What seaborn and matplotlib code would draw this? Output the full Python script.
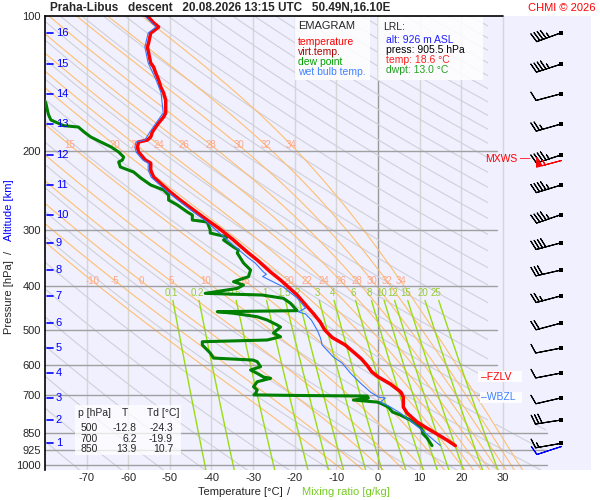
import numpy as np
import matplotlib
matplotlib.use("Agg")
import matplotlib.pyplot as plt
from matplotlib.patches import Rectangle, Polygon
import seaborn as sns

# ---- sounding values ----
temp_p = [100, 103.6, 105.8, 108.0, 109.1, 114.8, 117.2, 120.9, 127.3, 129.9,
          133.9, 138.8, 143.9, 148.4, 153.9, 164.4, 167.8, 173.1, 176.7, 181.3,
          186.0, 188.9, 190.8, 195.8, 200.9, 206.1, 209.3, 212.6, 220.3, 228.4,
          237.9, 246.6, 257.0, 270.4, 286.2, 296.6, 315.4, 335.5, 349.5, 371.7,
          387.3, 418.3, 447.1, 460, 480, 500, 520, 540, 560, 580,
          600, 620, 636, 660, 688, 706, 743, 766, 802, 828,
          850, 880, 905.5]
temp_t = [-55.4, -53.9, -52.7, -53.9, -54.6, -55.1, -55.4, -55.1, -54.6, -53.9,
          -53.4, -52.7, -52.2, -51.5, -51.0, -51.0, -51.5, -52.7, -53.4, -54.2,
          -54.6, -55.4, -57.5, -57.8, -57.5, -56.5, -55.9, -54.6, -54.6, -53.9,
          -51.8, -49.9, -47.5, -44.3, -40.7, -38.3, -34.7, -31.4, -29.0, -25.8,
          -23.4, -19.4, -16.7, -15.5, -13.9, -12.8, -11.0, -7.9, -5.9, -4.0,
          -2.6, -1.5, 0.0, 3.0, 5.5, 6.1, 6.1, 7.0, 9.4, 11.8,
          13.9, 16.6, 18.6]

wetb_p = [100, 105.8, 109.1, 117.2, 127.3, 138.8, 148.4, 164.4, 173.1, 181.3,
          188.9, 190.8, 195.8, 200.9, 209.3, 212.6, 220.3, 228.4, 237.9, 246.6,
          257.0, 270.4, 286.2, 299.6, 320, 344.2, 354.9, 371.7, 376, 380.5,
          401.4, 424.8, 435.7, 447.1, 456.2, 460.9, 475.5, 500.5, 521.3, 540.4,
          574.9, 592.8, 624.2, 656.9, 687.9, 705.8, 709.4, 724.2, 742.9, 766.2,
          806.5, 848.8, 905.5]
wetb_t = [-56.0, -53.3, -55.2, -56.0, -55.2, -53.3, -52.1, -51.6, -53.3, -54.8,
          -56.0, -58.1, -58.4, -58.1, -56.5, -55.2, -55.2, -54.5, -52.4, -50.5,
          -48.1, -45.0, -41.4, -38.9, -35.4, -31.4, -29.5, -27.5, -26.8, -27.7,
          -22.7, -19.4, -18.4, -17.4, -19.1, -17.4, -16.0, -14.6, -13.8, -13.4,
          -10.7, -8.6, -6.6, -4.2, -1.8, 0.1, 1.8, 0.6, 3.0, 5.4,
          8.5, 11.4, 15.0]

dwpt_p = [152, 156.2, 165.5, 170.4, 175.5, 176.7, 181.3, 186.0, 190.8, 195.8,
          200.9, 206.1, 209.3, 211.4, 216.9, 222.6, 229.5, 237.9, 244.1, 250.4,
          257.0, 263.6, 273.3, 277.5, 284.7, 287.6, 299.6, 304.4, 310.6, 315.4,
          327.0, 332.0, 337.2, 354.9, 367.9, 380.7, 390.7, 397.3, 404.2, 414.7,
          418.3, 425.4, 436.4, 453.2, 455.6, 459.3, 467.5, 475.5, 487.8, 492.8,
          508.2, 518.0, 526.8, 531.4, 540.4, 554.5, 563.2, 577.9, 583.9, 588.8,
          604.1, 614.4, 625.2, 637.0, 641.1, 652.5, 669.4, 680.8, 692.3, 698.0,
          700.0, 702.2, 709.4, 716.7, 724.2, 727.9, 742.9, 762.1, 774.1, 794.3,
          823.3, 844.5, 850.0, 870.9, 905.5]
dwpt_t = [-80.5, -79.8, -79.2, -78.6, -75.5, -72.0, -70.6, -69.0, -66.6, -64.1,
          -62.3, -61.1, -61.4, -62.3, -61.9, -58.7, -57.0, -54.6, -51.5, -50.3,
          -50.3, -48.2, -45.8, -44.6, -44.6, -41.0, -40.3, -40.3, -36.2, -37.1,
          -34.7, -33.5, -33.8, -32.3, -30.6, -31.1, -34.7, -32.3, -33.8, -41.5,
          -27.8, -22.7, -21.0, -19.4, -38.6, -34.7, -29.0, -26.6, -24.2, -23.4,
          -25.1, -23.4, -26.6, -42.2, -42.2, -41.0, -40.3, -39.5, -30.0, -29.0,
          -28.2, -30.6, -29.0, -27.5, -25.8, -29.0, -29.9, -29.0, -29.4, -29.8,
          -19.9, -2.6, -2.3, -5.9, -0.2, 0.5, 2.5, 3.5, 5.4, 7.8,
          10.2, 10.9, 10.7, 11.8, 13.0]

# ---- diagram grid ----
press_levels = [100, 200, 300, 400, 500, 600, 700, 850, 925, 1000]
isotherms = [-70, -60, -50, -40, -30, -20, -10, 0, 10, 20, 30]
theta_dry = list(range(190, 650, 10))
theta_w = [-10, -5, 0, 5, 10, 15, 20, 22, 24, 26, 28, 30, 32, 34]
theta_w_top = [15, 20, 22, 24, 26, 28, 30, 32, 34]
mix_ratio = [0.1, 0.2, 0.5, 1, 1.5, 2, 3, 4, 6, 8, 10, 12, 15, 20, 25]
mix_label = ["0.1", "0.2", "0.5", "1", "1.5", "2", "3", "4", "6", "8",
             "10", "12", "15", "20", "25"]

# altitude scale [km] and the pressure at each km
alt_km = [1, 2, 3, 4, 5, 6, 7, 8, 9, 10, 11, 12, 13, 14, 15, 16]
alt_p = [895, 794, 709, 624, 549, 483, 420, 368, 320, 277, 238, 204, 174, 149, 128, 109]

# winds at each km
wind_dir = [260, 261, 257, 259, 259, 255, 255, 257, 255, 251, 253, 252, 254, 255, 252, 250]
wind_kt = [15, 30, 10, 10, 10, 20, 25, 30, 40, 45, 45, 45, 25, 10, 45, 45]
mxws_p, mxws_dir, mxws_kt = 209, 255, 55
sfc_p, sfc_dir, sfc_kt = 905.5, 252, 10

table_p = [500, 700, 850]
table_t = [-12.8, 6.2, 13.9]
table_td = [-24.3, -19.9, 10.7]


def sat_vap(tc):
    return 6.112 * np.exp(17.67 * tc / (tc + 243.5))


def mix_dewpoint(w, p):
    e = w * p / (622.0 + w)
    a = np.log(e / 6.112)
    return 243.5 * a / (17.67 - a)


def moist_lapse(T, p):
    es = sat_vap(T - 273.15)
    rs = 0.622 * es / (p - es)
    num = 287.04 * T + 2.501e6 * rs
    den = 1005.7 + 2.501e6 ** 2 * rs * 0.622 / (287.04 * T ** 2)
    return num / den


def pseudo_adiabat(tw):
    ps = np.geomspace(1030, 100, 300)
    i0 = np.argmin(np.abs(ps - 1000))
    ps[i0] = 1000
    T = np.empty_like(ps)
    T[i0] = tw + 273.15
    for step in (1, -1):
        rng = range(i0 + step, len(ps)) if step == 1 else range(i0 - 1, -1, -1)
        for i in rng:
            p0, p1 = ps[i - step], ps[i]
            dl = np.log(p1 / p0)
            k1 = moist_lapse(T[i - step], p0)
            k2 = moist_lapse(T[i - step] + k1 * dl, p1)
            T[i] = T[i - step] + 0.5 * (k1 + k2) * dl
    return ps, T - 273.15


sns.set_style("white")
plt.rcParams["font.family"] = ["Liberation Sans", "DejaVu Sans"]

W, H = 600, 500
fig = plt.figure(figsize=(6, 5), dpi=100)
ax = fig.add_axes([45 / W, 30 / H, 546 / W, 454 / H])
ax.set_facecolor("#f0f0ff")
ax.set_yscale("log")

# isotherms
for t in isotherms:
    ax.axvline(t, color="#999999" if t == 0 else "#d6d6d6", lw=1, zorder=1)

# dry adiabats, clipped away from the wind column
clip = Polygon([(-81, 90), (26.5, 90), (26.5, 810), (40.5, 810), (40.5, 1100), (-81, 1100)],
               transform=ax.transData, facecolor="none", edgecolor="none")
ax.add_patch(clip)
pp = np.geomspace(1030, 100, 120)
for th in theta_dry:
    ln, = ax.plot(th * (pp / 1000) ** 0.2857 - 273.15, pp, color="#d0d0d8", lw=0.8, zorder=1)
    ln.set_clip_path(clip)

# saturated adiabats + labels
for tw in theta_w:
    ps, ts = pseudo_adiabat(tw)
    ax.plot(ts, ps, color="#ffbf70", lw=0.8, zorder=1.2)
    lp = np.log(ps[::-1])
    tl = np.interp(np.log(389), lp, ts[::-1])
    ax.text(tl, 389, str(tw), color="#ffa585", fontsize=7, ha="center", va="center", zorder=2)
    if tw in theta_w_top:
        tl = np.interp(np.log(194), lp, ts[::-1])
        ax.text(tl, 194, str(tw), color="#ffa585", fontsize=7, ha="center", va="center", zorder=2)

# mixing ratio lines + labels
pm = np.geomspace(430, 1030, 40)
for w, lab in zip(mix_ratio, mix_label):
    ax.plot(mix_dewpoint(w, pm), pm, color="#99dd11", lw=1, zorder=1.3)
    ax.text(mix_dewpoint(w, 414), 413, lab, color="#99cc33", fontsize=7,
            ha="center", va="center", zorder=2)

# isobars
for p in press_levels[1:]:
    xmax = 40.7 if p >= 850 else 28.7
    ax.plot([-80, xmax], [p, p], color="#a0a0a0", lw=1, zorder=1.5)
ax.plot([-80, 30], [100, 100], color="black", lw=1.2, zorder=6, clip_on=False)

# profiles
sns.lineplot(x=dwpt_t, y=dwpt_p, sort=False, estimator=None, color="#008000",
             lw=2.2, ax=ax, zorder=4)
sns.lineplot(x=temp_t, y=temp_p, sort=False, estimator=None, color="#ff0000",
             lw=2.5, ax=ax, zorder=5)
sns.lineplot(x=wetb_t, y=wetb_p, sort=False, estimator=None, color="#3377ff",
             lw=0.8, ax=ax, zorder=5.5)

# altitude scale
for km, p in zip(alt_km, alt_p):
    ax.plot([-79.4, -78.0], [p, p], color="#0000ff", lw=1.2, zorder=6)
    ax.text(-77.4, p, str(km), color="#0000ff", fontsize=8, ha="left", va="center", zorder=6)

# wind barbs
def uv(d, s):
    r = np.deg2rad(np.asarray(d, float))
    s = np.asarray(s, float)
    return -s * np.sin(r), -s * np.cos(r)

bx = 44.0
u, v = uv(wind_dir, wind_kt)
kw = dict(length=6.1, pivot="tip", linewidth=0.8,
          sizes=dict(height=0.36, spacing=0.13, width=0.22))
ax.barbs([bx] * len(alt_p), alt_p, u, v, color="black", zorder=7, **kw)
u, v = uv([mxws_dir], [mxws_kt])
ax.barbs([bx], [mxws_p], u, v, color="red", zorder=7.5, **kw)
u, v = uv([sfc_dir], [sfc_kt])
ax.barbs([bx], [sfc_p], u, v, color="#0000ff", zorder=7.2, **kw)
ax.scatter([bx] * len(alt_p), alt_p, marker="s", s=6, color="black", zorder=8, linewidths=0)

ax.set_xlim(-80, 51.2)
ax.set_ylim(1026, 100)
ax.set_xticks(isotherms)
ax.set_xticklabels([str(t) for t in isotherms], fontsize=8)
ax.set_yticks(press_levels)
ax.set_yticklabels([str(p) for p in press_levels], fontsize=8)
ax.minorticks_off()
ax.tick_params(length=0, pad=3)
ax.tick_params(axis="x", pad=2)
for s in ["top", "right", "bottom"]:
    ax.spines[s].set_visible(False)
ax.spines["left"].set_color("black")
ax.spines["left"].set_linewidth(1.2)
ax.set_xlabel("")
ax.set_ylabel("")


def ftxt(x, y, s, **k):
    fig.text(x / W, 1 - y / H, s, **k)


def fbox(x0, y0, x1, y1, alpha=0.85):
    fig.add_artist(Rectangle((x0 / W, 1 - y1 / H), (x1 - x0) / W, (y1 - y0) / H,
                             transform=fig.transFigure, facecolor="white",
                             edgecolor="none", alpha=alpha, zorder=9))


# titles
ftxt(50, 8, "Praha-Libus   descent   20.08.2026 13:15 UTC   50.49N,16.10E",
     fontsize=8.5, fontweight="bold", ha="left", va="center")
ftxt(596, 8, "CHMI \u00a9 2026", fontsize=8, color="red", ha="right", va="center")

# axis labels
ftxt(9, 297, "Pressure [hPa]", rotation=90, fontsize=8, ha="center", va="center")
ftxt(9, 252, "/", rotation=90, fontsize=8, ha="center", va="center")
ftxt(9, 210, "Altitude [km]", rotation=90, fontsize=8, color="#0000ff", ha="center", va="center")
ftxt(283, 492, "Temperature [\u00b0C]", fontsize=8, ha="right", va="center")
ftxt(289, 492, "/", fontsize=8, ha="center", va="center")
ftxt(302, 492, "Mixing ratio [g/kg]", fontsize=8, color="#77cc22", ha="left", va="center")

# legend box
fbox(295, 17, 370, 80)
ftxt(298, 26, "EMAGRAM", fontsize=8, ha="left", va="center", zorder=10)
for i, (s, c) in enumerate([("temperature", "#ff0000"), ("virt.temp.", "#b00000"),
                            ("dew point", "#00a000"), ("wet bulb temp.", "#4080ff")]):
    ftxt(298, 42 + 10 * i, s, fontsize=7.5, color=c, ha="left", va="center", zorder=10)

# launch point box
fbox(378, 17, 483, 80)
ftxt(383, 27, "LRL:", fontsize=7.5, ha="left", va="center", zorder=10)
for i, (s, c) in enumerate([("alt: 926 m ASL", "#2020ff"), ("press: 905.5 hPa", "black"),
                            ("temp: 18.6 \u00b0C", "#ff2020"), ("dwpt: 13.0 \u00b0C", "#20a020")]):
    ftxt(386, 40 + 10 * i, s, fontsize=7.5, color=c, ha="left", va="center", zorder=10)

# standard level table
fbox(75, 405, 181, 455, alpha=0.75)
ftxt(78, 413, "p [hPa]", fontsize=7.5, ha="left", va="center", zorder=10)
ftxt(125, 413, "T", fontsize=7.5, ha="center", va="center", zorder=10)
ftxt(147, 413, "Td [\u00b0C]", fontsize=7.5, ha="left", va="center", zorder=10)
for i, (p, t, td) in enumerate(zip(table_p, table_t, table_td)):
    y = 428 + 10.5 * i
    ftxt(98, y, str(p), fontsize=7.5, ha="right", va="center", zorder=10)
    ftxt(137, y, f"{t:.1f}", fontsize=7.5, ha="right", va="center", zorder=10)
    ftxt(173, y, f"{td:.1f}", fontsize=7.5, ha="right", va="center", zorder=10)

# level markers
ftxt(517, 159, "MXWS", fontsize=7.5, color="red", ha="right", va="center", zorder=10)
ftxt(520, 158, "\u2014", fontsize=7.5, color="red", ha="left", va="center", zorder=10)
fbox(478, 371, 522, 382, alpha=0.9)
ftxt(481, 377, "\u2013FZLV", fontsize=7.5, color="red", ha="left", va="center", zorder=10)
fbox(480, 392, 522, 403, alpha=0.9)
ftxt(481, 397, "\u2013WBZL", fontsize=7.5, color="#4080ff", ha="left", va="center", zorder=10)

fig.savefig("out.png", dpi=100)
